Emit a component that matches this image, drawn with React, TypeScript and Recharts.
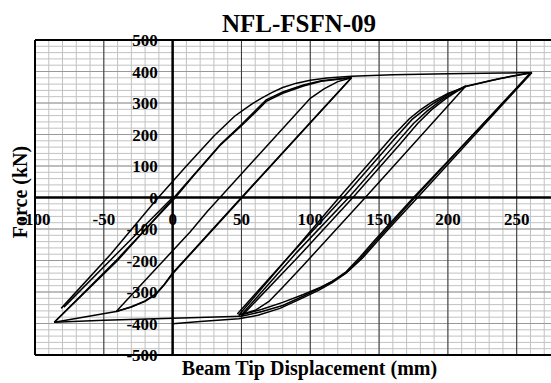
import React from "react";
import { LineChart, Line, XAxis, YAxis, ReferenceLine, ReferenceDot } from "recharts";

type P = { x: number; y: number };
const pts = (a: number[][]): P[] => a.map(([x, y]) => ({ x, y }));

// tick labels
const xLabelTicks = [-100, -50, 0, 50, 100, 150, 200, 250];
const yLabelTicks = [-500, -400, -300, -200, -100, 0, 100, 200, 300, 400, 500];
const xMajor = [-50, 50, 100, 150, 200, 250];
const yMajor = [-400, -300, -200, -100, 100, 200, 300, 400];

// hysteresis branches (displacement mm, force kN)
const initialNeg = pts([[0, 0], [-40, -176], [-79, -348]]);
const loadOuter = pts([[-81, -352], [-45, -180], [-12, -8], [10, 100], [30, 195], [45, 258], [52, 280], [58, 298], [65, 316], [72, 333], [80, 349], [90, 363], [100, 372], [112, 379], [130, 385], [160, 390], [200, 393], [240, 395], [261, 397]]);
const unloadA = pts([[261, 397], [178, 0], [160, -85], [148, -143], [138, -192], [128, -232], [118, -262], [108, -284], [95, -308], [80, -333], [65, -355], [50, -372]]);
const reloadB = pts([[50, -372], [90, -175], [128, 0], [163, 175], [175, 235], [185, 275], [195, 308], [204, 333], [213, 354]]);
const unloadB = pts([[213, 354], [140, 0], [95, -215], [80, -285], [70, -330], [60, -358], [48, -374]]);
const reloadC = pts([[48, -374], [84, -190], [121, 0], [160, 195], [172, 250], [180, 278], [188, 302], [200, 330], [213, 352], [230, 370], [245, 384], [261, 397]]);
const unloadC = pts([[261, 397], [175, 0], [158, -82], [146, -140], [136, -190], [126, -236], [116, -266], [106, -290], [94, -315], [80, -343], [65, -362], [50, -377]]);
const reloadD = pts([[50, -377], [92, -185], [131, 0], [165, 168], [178, 235], [188, 278], [198, 312], [206, 335], [213, 354]]);
const reloadE2 = pts([[47, -370], [86, -180], [124, 0], [162, 190], [174, 248], [182, 276], [190, 300], [201, 330], [213, 353], [237, 377], [261, 396]]);
const negPlateau = pts([[50, -377], [0, -383], [-50, -390], [-86, -396]]);
const reloadE = pts([[-86, -396], [-40, -200], [0, -5], [15, 70], [35, 170], [50, 232], [60, 275], [68, 310], [80, 335], [95, 357], [108, 371], [130, 381]]);
const unloadD = pts([[130, 381], [50, 0], [0, -240], [-6, -275], [-12, -305], [-20, -328], [-30, -347], [-41, -362]]);
const reloadF = pts([[-41, -362], [13, -108], [25, -45], [100, 315], [110, 345], [120, 368], [130, 380]]);
const unloadE = pts([[130, 380], [50, -2], [0, -242], [-6, -277], [-12, -307], [-20, -330], [-30, -348], [-41, -362], [-86, -396]]);
const reloadG = pts([[-86, -396], [-40, -195], [2, 0], [15, 68], [35, 168], [50, 228], [60, 270], [68, 305], [80, 331], [95, 354], [108, 369], [130, 380]]);
const unloadF = pts([[260, 396], [176, 0], [158, -88], [146, -146], [136, -196], [126, -240], [116, -270], [106, -295], [93, -322], [78, -352], [62, -374], [48, -385], [20, -394], [0, -401]]);

const branches = [initialNeg, loadOuter, unloadA, reloadB, unloadB, reloadC, unloadC, reloadD, reloadE2, negPlateau, reloadE, unloadD, reloadF, unloadE, reloadG, unloadF];

const xMinor = Array.from({ length: 39 }, (_, i) => -100 + i * 10);
const yMinor = Array.from({ length: 51 }, (_, i) => -500 + i * 20);

const FONT = "'Liberation Serif', 'Times New Roman', serif";

export default function App() {
  return (
    <div style={{ position: "absolute", left: 0, top: 0, width: 551, height: 383, overflow: "hidden", background: "#fff", fontFamily: FONT }}>
      <div style={{ position: "absolute", left: 0, width: 598, top: 10, textAlign: "center", fontSize: 25, fontWeight: "bold", lineHeight: "28px" }}>NFL-FSFN-09</div>
      <div style={{ position: "absolute", left: 0, width: 619, top: 356, textAlign: "center", fontSize: 20, fontWeight: "bold", lineHeight: "24px" }}>Beam Tip Displacement (mm)</div>
      <div style={{ position: "absolute", left: 20, top: 192, width: 0, height: 0 }}>
        <div style={{ position: "absolute", left: -100, top: -12, width: 200, textAlign: "center", fontSize: 20, fontWeight: "bold", lineHeight: "24px", transform: "rotate(-90deg)", whiteSpace: "nowrap" }}>Force (kN)</div>
      </div>
      <div style={{ position: "absolute", left: 0, top: 0 }}>
        <LineChart width={558} height={383} margin={{ top: 40, right: 0, bottom: 28, left: 35 }}>
          <XAxis type="number" dataKey="x" domain={[-100, 280]} allowDataOverflow hide />
          <YAxis type="number" domain={[-500, 500]} allowDataOverflow hide />
          {xMinor.map((v) => (
            <ReferenceLine key={"xm" + v} x={v} stroke="#c2c2c2" strokeWidth={1} />
          ))}
          {yMinor.map((v) => (
            <ReferenceLine key={"ym" + v} y={v} stroke="#c2c2c2" strokeWidth={1} />
          ))}
          {yMajor.map((v) => (
            <ReferenceLine key={"yM" + v} y={v} stroke="#999" strokeWidth={1} />
          ))}
          {xMajor.map((v) => (
            <ReferenceLine key={"xM" + v} x={v} stroke="#333" strokeWidth={1} />
          ))}
          <ReferenceLine x={-100} stroke="#000" strokeWidth={2} />
          <ReferenceLine y={500} stroke="#000" strokeWidth={2} />
          <ReferenceLine y={-500} stroke="#000" strokeWidth={2} />
          <ReferenceLine x={0} stroke="#000" strokeWidth={2.5} />
          <ReferenceLine y={0} stroke="#000" strokeWidth={2.5} />
          {branches.map((b, i) => (
            <Line key={"b" + i} data={b} dataKey="y" type="linear" stroke="#000" strokeWidth={1.5} dot={false} isAnimationActive={false} />
          ))}
          {xLabelTicks.map((v) => (
            <ReferenceDot key={"xl" + v} x={v} y={0} r={0} shape={(p: any) => (
              <text x={p.cx} y={p.cy + 27.5} textAnchor="middle" fontFamily={FONT} fontWeight="bold" fontSize={17} fill="#000">{v}</text>
            )} />
          ))}
          {yLabelTicks.map((v) => (
            <ReferenceDot key={"yl" + v} x={0} y={v} r={0} shape={(p: any) => (
              <text x={p.cx - 15} y={p.cy + 6} textAnchor="end" fontFamily={FONT} fontWeight="bold" fontSize={17} fill="#000">{v}</text>
            )} />
          ))}
        </LineChart>
      </div>
    </div>
  );
}
